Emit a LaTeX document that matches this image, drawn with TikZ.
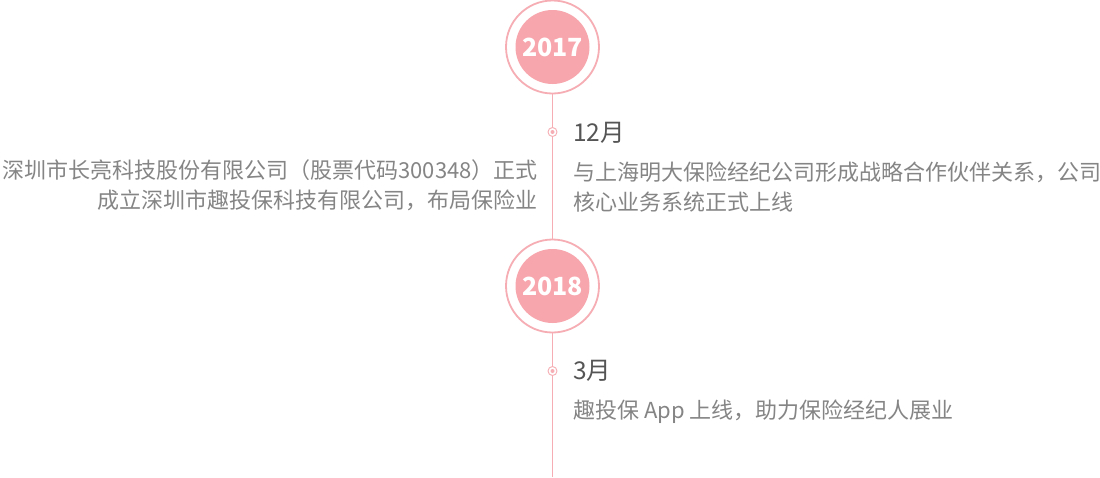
\documentclass[tikz,border=0pt]{standalone}
\usepackage{fontspec}
\setmainfont{Noto Sans CJK SC}
\definecolor{pinkfill}{HTML}{F8A6AD}
\definecolor{pinkline}{HTML}{F6AEB4}
\definecolor{monthgray}{HTML}{555555}
\definecolor{descgray}{HTML}{858585}
\tikzset{
  yearring/.style={circle, draw=pinkline, line width=1.8pt, fill=white, minimum size=93pt, inner sep=0pt},
  yeardisc/.style={circle, fill=pinkfill, minimum size=74pt, inner sep=0pt, text=white, font=\fontsize{25}{25}\selectfont\bfseries},
  axis/.style={draw=pinkline, line width=1.4pt},
  dotring/.style={circle, draw=pinkline, line width=0.9pt, fill=white, minimum size=9pt, inner sep=0pt},
  dotcore/.style={circle, fill=pinkline, minimum size=4pt, inner sep=0pt},
  monthtxt/.style={anchor=west, inner sep=0pt, text=monthgray, font=\fontsize{24.5}{24.5}\selectfont},
  desctxt/.style={inner sep=0pt, text=descgray, font=\fontsize{22}{30}\selectfont},
}
\begin{document}
\begin{tikzpicture}[x=1pt,y=-1pt]
\useasboundingbox (0,0) rectangle (1100,477);
\fill[white] (0,0) rectangle (1100,477);
% axis
\node[yearring] (r1) at (552.5,47) {};
\node[yearring] (r2) at (552.5,286) {};
\coordinate (bottom) at (552.5,477);
\draw[axis] (r1.south) -- (r2.north);
\draw[axis] (r2.south) -- (bottom);
\node[yeardisc] (y1) at (r1.center) {2017};
\node[yeardisc] (y2) at (r2.center) {2018};
% dots
\node[dotring] (d1) at (552.5,132) {};
\node[dotcore] (d1c) at (d1.center) {};
\node[dotring] (d2) at (552.5,371) {};
\node[dotcore] (d2c) at (d2.center) {};
% texts
\node[monthtxt] (m1) at (573,132.5) {12月};
\node[desctxt, anchor=west, align=left] (t1) at (573,187) {与上海明大保险经纪公司形成战略合作伙伴关系，公司\\核心业务系统正式上线};
\node[desctxt, anchor=east, align=right] (l1) at (538,185) {深圳市长亮科技股份有限公司（股票代码300348）正式\\成立深圳市趣投保科技有限公司，布局保险业};
\node[monthtxt] (m2) at (573,371) {3月};
\node[desctxt, anchor=west] (t2) at (573,412) {趣投保 App 上线，助力保险经纪人展业};
\end{tikzpicture}
\end{document}
